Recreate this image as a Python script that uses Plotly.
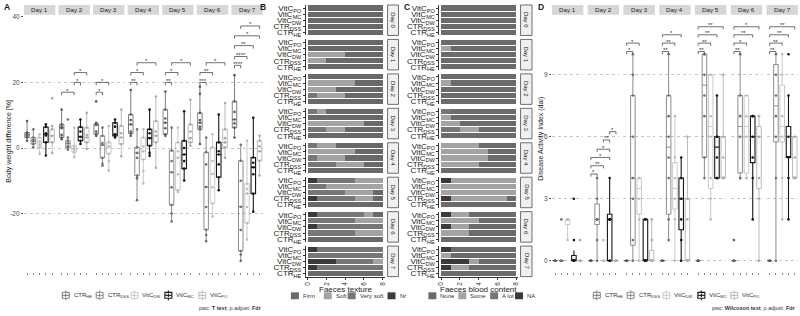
import plotly.graph_objects as go

W, H = 800, 316
FONT = "Liberation Sans, Arial, sans-serif"


def px(x):
    return x / W


def py(y):
    return 1 - y / H


# ---------------- shared groups ----------------
group_labels = ["CTR<sub>HE</sub>", "CTR<sub>DSS</sub>", "VitC<sub>DW</sub>",
                "VitC<sub>MC</sub>", "VitC<sub>PO</sub>"]
group_colors = ["#5c5c5c", "#707070", "#bdbdbd", "#161616", "#aaaaaa"]
group_lw = [0.8, 0.8, 0.8, 1.1, 0.8]

# ---------------- Panel A: body weight difference ----------------
a_days = ["Day 1", "Day 2", "Day 3", "Day 4", "Day 5", "Day 6", "Day 7"]
a_lower = [[2.2, 0.2, -1.8, -2.3, -1.5], [2.7, -0.5, -2.8, 1.2, -0.3],
           [3.7, -5.4, -6.9, 3.2, -2.5], [3.7, -15.9, -10.8, -2.4, -6.0],
           [3.7, -22.4, -13.4, -9.9, 0.7], [1.2, -28.4, -20.9, -12.9, -3.0],
           [3.2, -34.4, -27.9, -19.4, -8.4]]
a_q1 = [[3.2, 1.2, 0.2, 1.7, 1.7], [3.2, 0.2, -1.3, 2.2, 1.7],
        [4.2, -3.0, -1.8, 3.7, 1.2], [4.4, -8.4, -3.5, 0.7, 1.7],
        [4.2, -17.4, -12.9, -6.3, 1.7], [5.7, -24.9, -16.9, -8.9, 0.2],
        [6.2, -31.4, -22.9, -13.9, -3.9]]
a_median = [[4.0, 2.2, 1.5, 4.2, 3.7], [6.2, 1.4, -0.3, 3.4, 3.2],
            [7.0, 0.9, 0.2, 4.2, 3.2], [7.2, -1.5, -1.0, 3.0, 3.7],
            [7.7, -7.4, -3.0, -2.0, 3.0], [7.7, -11.9, -7.9, -2.0, 1.7],
            [8.7, -17.9, -13.9, -5.9, -1.0]]
a_q3 = [[4.7, 3.2, 3.2, 6.4, 5.7], [7.2, 2.2, 0.7, 6.4, 6.2],
        [7.4, 3.7, 1.7, 7.7, 6.7], [10.2, 0.2, 3.2, 5.7, 8.2],
        [11.7, -0.8, 1.7, 2.2, 7.2], [10.7, -1.3, 0.2, 1.7, 5.7],
        [14.2, -3.9, -10.9, -2.9, 2.2]]
a_upper = [[8.2, 5.7, 4.2, 7.2, 6.7], [11.7, 3.2, 6.2, 8.7, 10.7],
           [7.7, 6.2, 6.7, 8.7, 11.7], [17.7, 5.7, 5.7, 11.7, 15.7],
           [17.2, 6.2, 6.2, 11.2, 14.7], [18.7, 3.2, 4.2, 10.2, 13.7],
           [22.2, 1.0, 2.2, 9.2, 3.7]]
a_points = [
    [[8.2, 4.7, 4.3, 4.0, 3.5, 3.2, 2.2], [5.7, 3.2, 2.5, 2.0, 1.2, 0.2],
     [4.2, 3.2, 2.0, 1.0, 0.2, -1.8], [7.2, 6.4, 4.5, 3.8, 1.7, -2.3],
     [15.2, 6.7, 5.7, 3.7, 1.7, -1.5]],
    [[11.7, 7.2, 6.5, 6.0, 4.0, 3.2, 2.7], [8.7, 3.2, 2.2, 1.4, 0.5, 0.2, -0.5],
     [6.2, 0.7, 0.0, -0.5, -1.3, -2.8], [8.7, 6.4, 5.0, 3.4, 2.2, 1.2],
     [10.7, 6.2, 4.0, 3.2, 1.7, -0.3]],
    [[14.2, 7.7, 7.4, 7.0, 5.0, 4.2, 3.7], [6.2, 3.7, 1.5, 0.9, -3.0, -4.8, -5.4],
     [6.7, 1.7, 0.5, -1.8, -4.0, -6.9], [8.7, 7.7, 6.5, 4.2, 3.7, 3.2],
     [11.7, 6.7, 4.5, 3.2, 1.2, -2.5]],
    [[17.7, 10.2, 8.5, 7.2, 5.0, 4.4, 3.7], [5.7, 0.2, -1.5, -3.0, -8.4, -9.0, -9.3, -15.9],
     [5.7, 3.2, 0.5, -1.0, -3.5, -7.0, -10.8], [11.7, 5.7, 4.5, 3.0, 0.7, -1.5, -2.4],
     [15.7, 8.2, 5.0, 3.7, 1.7, -6.0]],
    [[17.2, 11.7, 9.0, 7.7, 6.0, 4.2, 3.7], [6.2, -0.8, -4.0, -7.4, -12.0, -17.4, -20.0, -22.4],
     [6.2, 1.7, -1.0, -3.0, -8.0, -12.9, -13.4], [11.2, 2.2, 0.0, -2.0, -4.0, -6.3, -9.9],
     [14.7, 7.2, 5.0, 3.0, 1.7, 0.7]],
    [[18.7, 16.5, 10.7, 8.5, 7.7, 6.5, 5.7, 1.2], [3.2, -1.3, -5.0, -11.9, -18.0, -24.9, -26.5, -28.4],
     [4.2, 0.2, -4.0, -7.9, -12.0, -16.9, -20.9], [10.2, 1.7, -1.0, -2.0, -5.0, -8.9, -12.9],
     [13.7, 5.7, 3.0, 1.7, 0.2, -3.0]],
    [[22.2, 14.2, 11.0, 8.7, 7.5, 6.2, 3.2], [1.0, -3.9, -10.0, -17.9, -25.0, -31.4, -32.5, -34.4],
     [2.2, -10.9, -12.5, -13.9, -18.0, -22.9, -27.9], [9.2, -2.9, -4.5, -5.9, -8.0, -13.9, -19.4],
     [3.7, 2.2, 0.5, -1.0, -3.9, -8.4]],
]
# (group from, group to, bracket height, label)
a_brackets = [
    [],
    [(1, 3, 17, "*"), (3, 4, 20, "*"), (3, 5, 23, "*")],
    [(1, 2, 17, "*"), (1, 3, 20, "*")],
    [(1, 2, 20, "**"), (1, 3, 23, "*"), (2, 5, 26, "*")],
    [(1, 2, 20, "**"), (1, 3, 23, "*"), (2, 5, 26, "*")],
    [(1, 2, 20, "***"), (1, 3, 23, "**"), (2, 5, 26, "*")],
    [(1, 2, 25.2, "****"), (1, 3, 27.9, "****"), (1, 4, 31.2, "**"),
     (1, 5, 34.2, "*"), (2, 5, 37.2, "*")],
]
a_yticks = [-20, 0, 20, 40]
a_yticktext = ["-20", "0", "20", "40"]

# ---------------- Panel D: disease activity index ----------------
d_days = ["Day 1", "Day 2", "Day 3", "Day 4", "Day 5", "Day 6", "Day 7"]
d_lower = [[0, 0, 1, 0, 0], [0, 0, 0, 0, 0], [0, 0, 0, 0, 0], [0, 1, 0, 0, 0],
           [0, 4, 2, 4, 4], [0, 4, 4, 2, 0], [0, 0, 2, 2, 4]]
d_q1 = [[0, 0, 1.75, 0, 0], [0, 1.75, 0, 0, 0], [0, 0.75, 2.25, 0, 0],
        [0, 2.25, 2.5, 1.5, 0], [0, 5, 3.5, 4, 4], [0, 4.25, 4.25, 4.75, 3.5],
        [0, 5.75, 5.75, 5, 4]]
d_median = [[0, 0, 2, 0, 0], [0, 2, 0, 2, 0], [0, 4, 3.5, 0, 0], [0, 5.5, 3.5, 3, 0],
            [0, 8.5, 6.5, 5.5, 4], [0, 6.5, 6.5, 6, 6], [0, 7.5, 6.5, 5, 4]]
d_q3 = [[0, 0, 2, 0.25, 0], [0, 2.75, 0, 2.25, 0], [0, 8, 4, 2, 0.5],
        [0, 8, 4.75, 4, 3], [0, 10, 9, 6, 6], [0, 8, 8, 7, 6.5], [0, 9.5, 8.5, 6.5, 6]]
d_upper = [[0, 0, 2, 0.5, 0], [0, 4, 0, 4, 0], [0, 10, 4, 2, 2], [0, 10, 7, 5, 6],
           [0, 10, 9, 8, 9], [0, 10, 8, 7, 7], [0, 10, 10, 8, 6]]
d_points = [
    [[0, 0, 0, 0], [0, 0, 0, 2], [1, 2, 2, 2], [0, 0, 0, 1, 3], [0, 0, 1]],
    [[0, 0, 0, 0], [0, 1, 2, 2, 2, 3, 4], [0, 0, 0, 1], [0, 0, 2, 2, 2, 4], [0, 0, 0]],
    [[0, 0, 0], [0, 1, 3, 4, 6, 8, 9, 10], [0, 2, 3, 4, 4], [0, 0, 0, 2, 2], [0, 0, 1, 2]],
    [[0, 0, 0], [1, 2, 4, 5, 6, 7, 8, 10], [0, 2, 3, 4, 5, 7], [0, 1, 2, 3, 4, 5], [0, 0, 2, 3, 6]],
    [[0, 0, 0], [4, 5, 7, 8, 9, 10, 10], [2, 3, 4, 6, 7, 9], [4, 4, 5, 6, 6, 8], [4, 4, 5, 6, 9]],
    [[0, 0, 1], [4, 4, 6, 7, 8, 10], [4, 4, 6, 7, 8], [2, 4, 5, 6, 7, 7], [0, 3, 4, 6, 7]],
    [[0, 0, 0], [0, 4, 6, 7, 8, 9, 10], [2, 4, 6, 7, 9, 10], [2, 4, 5, 6, 8, 10], [4, 4, 5, 6]],
]
d_brackets = [
    [],
    [(1, 2, 4.2, "*"), (1, 3, 4.6, "**"), (1, 4, 5.0, "*"), (2, 4, 5.4, "*"),
     (3, 4, 5.85, "**"), (4, 5, 6.25, "*")],
    [(1, 2, 10.13, "*"), (1, 3, 10.54, "*")],
    [(1, 2, 10.13, "**"), (1, 3, 10.54, "**"), (1, 4, 10.94, "*")],
    [(1, 2, 10.13, "**"), (1, 3, 10.54, "**"), (1, 4, 10.94, "**"), (1, 5, 11.33, "**")],
    [(1, 2, 10.13, "**"), (1, 3, 10.54, "*"), (1, 4, 10.94, "**"), (1, 5, 11.33, "*")],
    [(1, 2, 10.13, "**"), (1, 3, 10.54, "**"), (1, 4, 10.94, "**"), (1, 5, 11.33, "**")],
]
d_yticks = [0, 3, 6, 9]

# ---------------- Panel B: faeces texture (counts, rows HE, DSS, DW, MC, PO) ----------------
bc_days = ["Day 0", "Day 1", "Day 2", "Day 3", "Day 4", "Day 5", "Day 6", "Day 7"]
b_categories = ["Firm", "Soft", "Very soft", "Nr"]
b_colors = {"Firm": "#696969", "Soft": "#a3a3a3", "Very soft": "#777777", "Nr": "#3a3a3a"}
b_firm = [[8, 8, 8, 8, 8], [8, 6, 4, 8, 8], [8, 4, 5, 3, 8], [8, 4, 2, 8, 6],
          [8, 2, 4, 3, 5], [8, 1, 1, 0, 0], [8, 0, 0, 0, 1], [8, 0, 0, 0, 0]]
b_soft = [[0, 0, 0, 0, 0], [0, 2, 4, 0, 0], [0, 3, 3, 5, 0], [0, 2, 6, 0, 1],
          [0, 3, 3, 5, 2], [0, 2, 3, 6, 3], [0, 3, 0, 3, 1], [0, 0, 1, 0, 0]]
b_very_soft = [[0, 0, 0, 0, 0], [0, 0, 0, 0, 0], [0, 1, 0, 0, 0], [0, 2, 0, 0, 1],
               [0, 3, 1, 0, 1], [0, 4, 4, 2, 4], [0, 5, 7, 5, 5], [0, 7, 4, 8, 7]]
b_nr = [[0, 0, 0, 0, 0], [0, 0, 0, 0, 0], [0, 0, 0, 0, 0], [0, 0, 0, 0, 0],
        [0, 0, 0, 0, 0], [0, 1, 0, 0, 1], [0, 0, 1, 0, 1], [0, 1, 3, 0, 1]]

# ---------------- Panel C: faeces blood content ----------------
c_categories = ["None", "Some", "A lot", "NA"]
c_colors = {"None": "#6b6b6b", "Some": "#a3a3a3", "A lot": "#767676", "NA": "#3a3a3a"}
c_none = [[8, 8, 8, 8, 8], [8, 8, 8, 7, 8], [8, 8, 8, 7, 8], [8, 4, 6, 7, 7],
          [8, 4, 3, 3, 4], [8, 1, 0, 0, 0], [8, 5, 5, 4, 5], [8, 5, 4, 7, 7]]
c_some = [[0, 0, 0, 0, 0], [0, 0, 0, 1, 0], [0, 0, 0, 1, 0], [0, 2, 2, 1, 0],
          [0, 4, 5, 5, 4], [0, 6, 8, 8, 7], [0, 3, 2, 4, 2], [0, 2, 1, 1, 0]]
c_alot = [[0, 0, 0, 0, 0], [0, 0, 0, 0, 0], [0, 0, 0, 0, 0], [0, 2, 0, 0, 1],
          [0, 0, 0, 0, 0], [0, 0, 0, 0, 0], [0, 0, 0, 0, 0], [0, 0, 0, 0, 0]]
c_na = [[0, 0, 0, 0, 0], [0, 0, 0, 0, 0], [0, 0, 0, 0, 0], [0, 0, 0, 0, 0],
        [0, 0, 0, 0, 0], [0, 1, 0, 0, 1], [0, 0, 1, 0, 1], [0, 1, 3, 0, 1]]
bc_xticks = [0, 2, 4, 6, 8]

# ====================================================================
fig = go.Figure()
layout_axes = {}
shapes = []
annotations = []


def axname(n, kind):
    return kind + ("" if n == 1 else str(n))


def ref(n, kind):
    return kind + ("" if n == 1 else str(n))


def text(x, y, s, size=6.5, color="#1a1a1a", xanchor="center", yanchor="middle", angle=0):
    annotations.append(dict(xref="paper", yref="paper", x=px(x), y=py(y), text=s,
                            showarrow=False, textangle=angle, borderpad=0,
                            font=dict(size=size, color=color, family=FONT),
                            xanchor=xanchor, yanchor=yanchor))


def rect(x0, y0, x1, y1, fill, line_color=None, lw=0):
    shapes.append(dict(type="rect", xref="paper", yref="paper", x0=px(x0), x1=px(x1),
                       y0=py(y1), y1=py(y0), fillcolor=fill,
                       line=dict(color=line_color or fill, width=lw)))


def hline(x0, x1, y, color, lw=0.8):
    shapes.append(dict(type="line", xref="paper", yref="paper", x0=px(x0), x1=px(x1),
                       y0=py(y), y1=py(y), line=dict(color=color, width=lw)))


def vline(x, y0, y1, color, lw=0.8):
    shapes.append(dict(type="line", xref="paper", yref="paper", x0=px(x), x1=px(x),
                       y0=py(y0), y1=py(y1), line=dict(color=color, width=lw)))


def box_panel(first_n, left0, pitch, width, days, lower, q1, med, q3, upper, points,
              brackets, yrange, ytickvals, yticktext, tip):
    for i, day in enumerate(days):
        n = first_n + i
        x0 = left0 + pitch * i
        x1 = x0 + width
        layout_axes[axname(n, "xaxis")] = dict(
            domain=[px(x0), px(x1)], anchor=ref(n, "y"), range=[0.5, 5.5],
            tickvals=[1, 2, 3, 4, 5], showticklabels=False, ticks="outside", ticklen=2,
            tickcolor="#8a8a8a", tickwidth=1.4, showgrid=False, zeroline=False, showline=False)
        layout_axes[axname(n, "yaxis")] = dict(
            domain=[py(273), py(13)], anchor=ref(n, "x"), range=yrange,
            tickvals=ytickvals, ticktext=yticktext, showticklabels=(i == 0),
            ticks="outside" if i == 0 else "", ticklen=2, tickcolor="#555555",
            tickfont=dict(size=6.5, color="#4d4d4d", family=FONT),
            showgrid=True, gridcolor="#c4c4c4", griddash="dot", gridwidth=0.8,
            zeroline=False, showline=False)
        # strip
        rect(x0, 2, x1, 12, "#d6d6d6")
        text((x0 + x1) / 2, 7, day, size=6.2)
        for g in range(5):
            fig.add_trace(go.Box(
                x=[g + 1], q1=[q1[i][g]], median=[med[i][g]], q3=[q3[i][g]],
                lowerfence=[lower[i][g]], upperfence=[upper[i][g]],
                width=0.72, whiskerwidth=0, boxpoints=False,
                line=dict(color=group_colors[g], width=group_lw[g]),
                fillcolor="rgba(255,255,255,0)", showlegend=False, hoverinfo="skip",
                xaxis=ref(n, "x"), yaxis=ref(n, "y")))
            pts = points[i][g]
            fig.add_trace(go.Scatter(
                x=[g + 1] * len(pts), y=pts, mode="markers",
                marker=dict(size=2.6, color=group_colors[g]), showlegend=False,
                hoverinfo="skip", xaxis=ref(n, "x"), yaxis=ref(n, "y")))
        for (g1, g2, yv, lab) in brackets[i]:
            shapes.append(dict(type="path", xref=ref(n, "x"), yref=ref(n, "y"),
                               path=f"M {g1},{yv - tip} L {g1},{yv} L {g2},{yv} L {g2},{yv - tip}",
                               line=dict(color="#333333", width=0.7)))
            annotations.append(dict(xref=ref(n, "x"), yref=ref(n, "y"), x=(g1 + g2) / 2, y=yv,
                                    text=lab, showarrow=False, yanchor="bottom", yshift=-2.5,
                                    borderpad=0, font=dict(size=6, color="#333333", family=FONT)))


# Panel A: axes 1..7
box_panel(1, 22, 34.7, 31.5, a_days, a_lower, a_q1, a_median, a_q3, a_upper, a_points,
          a_brackets, [-37.7, 40.3], a_yticks, a_yticktext, 0.9)
# Panel D: axes 24..30
box_panel(24, 552, 35.9, 31.5, d_days, d_lower, d_q1, d_median, d_q3, d_upper, d_points,
          d_brackets, [-0.53, 11.86], d_yticks, [str(v) for v in d_yticks], 0.13)


def bar_panel(first_n, xl, xr, strip_x0, strip_x1, series, colors, names):
    for j, day in enumerate(bc_days):
        n = first_n + j
        top = 2 + 35 * j
        bot = top + 31
        last = (j == len(bc_days) - 1)
        layout_axes[axname(n, "xaxis")] = dict(
            domain=[px(xl), px(xr)], anchor=ref(n, "y"), range=[-0.2, 8.2],
            tickvals=bc_xticks, showticklabels=last, ticks="outside" if last else "",
            ticklen=2, tickcolor="#333333", tickangle=-90,
            tickfont=dict(size=6.5, color="#333333", family=FONT),
            showgrid=False, zeroline=False, showline=last, linecolor="#333333", linewidth=0.8)
        layout_axes[axname(n, "yaxis")] = dict(
            domain=[py(bot), py(top)], anchor=ref(n, "x"), range=[-0.5, 4.5],
            tickvals=[0, 1, 2, 3, 4], ticktext=group_labels, ticks="outside", ticklen=2,
            tickcolor="#333333", tickfont=dict(size=8, color="#1a1a1a", family=FONT),
            showgrid=False, zeroline=False, showline=True, linecolor="#333333", linewidth=0.8)
        for name, data in zip(names, series):
            fig.add_trace(go.Bar(
                x=data[j], y=[0, 1, 2, 3, 4], orientation="h", width=0.84,
                marker=dict(color=colors[name], line=dict(width=0)),
                showlegend=False, hoverinfo="skip", xaxis=ref(n, "x"), yaxis=ref(n, "y")))
        rect(strip_x0, top, strip_x1, bot, "#f0f0f0", "#4d4d4d", 0.8)
        text((strip_x0 + strip_x1) / 2, (top + bot) / 2, day, size=6, angle=90)


# stacking order from left: last level first
bar_panel(8, 305, 384, 387, 398, [b_nr, b_very_soft, b_soft, b_firm], b_colors,
          ["Nr", "Very soft", "Soft", "Firm"])
bar_panel(16, 439, 518, 520.5, 532, [c_na, c_alot, c_some, c_none], c_colors,
          ["NA", "A lot", "Some", "None"])

# ---------------- texts ----------------
text(1, 4, "<b>A</b>", size=8.5, xanchor="left")
text(258, 4, "<b>B</b>", size=8.5, xanchor="left")
text(403, 4, "<b>C</b>", size=8.5, xanchor="left")
text(537, 4, "<b>D</b>", size=8.5, xanchor="left")
text(7, 140, "Body weight difference [%]", size=7, angle=-90)
text(541, 138, "Disease Activity Index (dai)", size=7, angle=-90)
text(344.5, 291, "Faeces texture", size=8)
text(478.5, 291, "Faeces blood content", size=8)


# legends for box panels
def box_key(cx, cy, color, lw):
    rect(cx - 3.5, cy - 3, cx + 3.5, cy + 3, "rgba(255,255,255,0)", color, lw)
    hline(cx - 3.5, cx + 3.5, cy, color, lw)
    vline(cx, cy - 5, cy - 3, color, lw)
    vline(cx, cy + 3, cy + 5, color, lw)
    vline(cx, cy - 1.8, cy + 1.8, color, lw)


a_leg_x = [64, 98, 133, 167, 201]
for g in range(5):
    box_key(a_leg_x[g], 297, group_colors[g], group_lw[g])
    text(a_leg_x[g] + 7, 297, group_labels[g], size=6, color="#333333", xanchor="left")
text(262, 310, "pwc: <b>T test</b>; p.adjust: <b>Fdr</b>", size=5.5, color="#333333",
     xanchor="right")

d_leg_x = [597, 631, 667, 702, 735]
for g in range(5):
    box_key(d_leg_x[g], 297, group_colors[g], group_lw[g])
    text(d_leg_x[g] + 7, 297, group_labels[g], size=6, color="#333333", xanchor="left")
text(798, 310, "pwc: <b>Wilcoxon test</b>; p.adjust: <b>Fdr</b>", size=5.5, color="#333333",
     xanchor="right")

# legends for bar panels
b_leg_x = [290, 323, 347, 387]
for name, lx in zip(b_categories, b_leg_x):
    rect(lx, 294, lx + 8, 301, b_colors[name])
    text(lx + 11, 297.5, name, size=6, color="#333333", xanchor="left")
c_leg_x = [428, 458, 490, 515]
for name, lx in zip(c_categories, c_leg_x):
    rect(lx, 294, lx + 8, 301, c_colors[name])
    text(lx + 11, 297.5, name, size=6, color="#333333", xanchor="left")

fig.update_layout(
    width=W, height=H, margin=dict(l=0, r=0, t=0, b=0, pad=0),
    paper_bgcolor="white", plot_bgcolor="white", showlegend=False,
    barmode="stack", boxmode="overlay",
    font=dict(family=FONT, size=7, color="#333333"),
    shapes=shapes, annotations=annotations, **layout_axes)

fig.write_html("out.html")
